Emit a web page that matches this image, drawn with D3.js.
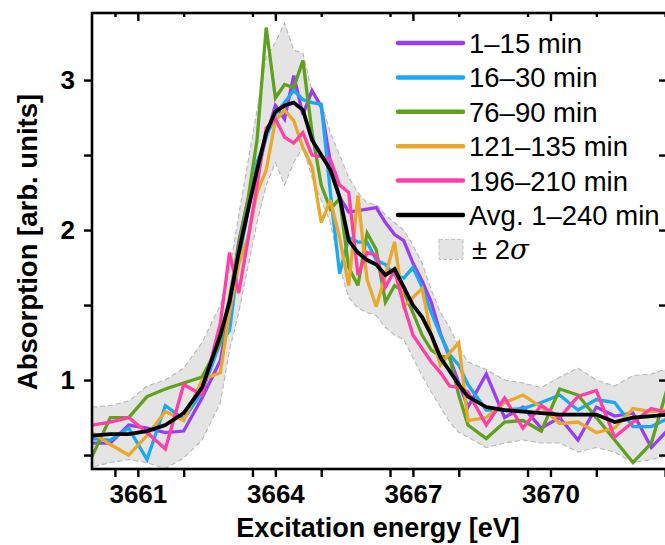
<!DOCTYPE html>
<html><head><meta charset="utf-8">
<script src="https://cdn.jsdelivr.net/npm/d3@7/dist/d3.min.js"></script>
<style>
html,body{margin:0;padding:0;background:#fff;}
svg{display:block;font-family:"Liberation Sans",Arial,sans-serif;}
</style></head>
<body><svg id="chart" width="665" height="545"></svg>
<script>
// Energy grid [eV]
const energy = [3660.0,3660.4,3660.8,3661.2,3661.6,3662.0,3662.4,
  3662.8,3663.0,3663.2,3663.4,3663.6,3663.8,3664.0,3664.2,3664.4,3664.6,3664.8,3665.0,
  3665.2,3665.4,3665.6,3665.8,3666.0,3666.2,3666.4,3666.6,3666.8,3667.0,3667.2,3667.4,
  3667.6,3667.8,3668.0,3668.2,
  3668.6,3669.0,3669.4,3669.8,3670.2,3670.6,3671.0,3671.4,3671.8,3672.2,3672.6];

const s1_15 = [0.58,0.58,0.70,0.68,0.65,0.66,0.88,
  1.13,1.47,1.92,2.20,2.38,2.62,2.83,2.74,3.03,2.77,2.93,2.82,
  2.45,2.22,2.12,2.13,2.14,2.15,2.05,1.97,1.93,1.78,1.66,1.52,
  1.31,1.15,0.98,0.82,
  1.04,0.75,0.82,0.68,0.75,0.60,0.82,0.76,0.78,0.55,0.68];
const s16_30 = [0.61,0.60,0.68,0.47,0.83,0.74,0.92,
  1.25,1.33,1.80,2.12,2.45,2.62,2.77,2.85,2.93,2.87,2.85,2.84,
  2.25,1.71,1.95,1.92,1.92,1.80,1.77,1.70,1.68,1.75,1.62,1.45,
  1.30,1.17,1.10,0.97,
  0.80,0.80,0.81,0.85,0.90,0.80,0.87,0.85,0.69,0.69,0.75];
const s76_90 = [0.49,0.75,0.75,0.89,0.94,0.98,1.02,
  1.25,1.55,1.90,2.20,2.60,3.35,2.88,2.97,2.95,3.13,2.65,2.30,
  2.14,2.21,1.75,1.63,1.98,1.87,1.52,1.63,1.59,1.45,1.30,1.20,
  1.16,1.15,0.90,0.70,
  0.61,0.72,0.73,0.66,0.94,0.90,0.75,0.60,0.45,0.58,1.00];
const s121_135 = [0.65,0.57,0.50,0.63,0.79,0.73,1.00,
  1.05,1.45,1.77,1.95,2.25,2.40,2.73,2.80,2.73,2.55,2.42,2.05,
  2.20,1.95,1.63,2.23,1.67,1.49,1.70,1.92,1.49,1.55,1.61,1.30,
  1.10,1.18,1.25,0.73,
  0.75,0.85,0.90,0.82,0.71,0.72,0.65,0.68,0.81,0.79,0.80];
const s196_210 = [0.70,0.72,0.75,0.65,0.54,0.97,0.90,
  1.38,1.85,1.58,1.93,2.30,2.68,2.74,2.62,2.58,2.65,2.50,2.49,
  2.47,2.30,2.25,1.70,1.85,1.83,1.62,1.73,1.50,1.30,1.21,1.12,
  1.05,0.96,0.95,0.92,
  0.70,0.88,0.68,0.83,0.75,0.89,0.93,0.62,0.72,0.81,0.78];
const avg = [0.63,0.64,0.64,0.66,0.70,0.78,0.95,
  1.30,1.52,1.85,2.13,2.40,2.65,2.79,2.83,2.85,2.80,2.60,2.50,
  2.40,2.22,1.93,1.85,1.80,1.77,1.70,1.74,1.62,1.50,1.42,1.30,
  1.15,1.06,0.97,0.89,
  0.82,0.80,0.79,0.78,0.77,0.77,0.77,0.72,0.75,0.76,0.77];
const bandHi = [0.82,0.83,0.86,0.96,1.00,1.08,1.25,
  1.50,1.73,2.10,2.45,2.80,3.15,3.25,3.38,3.20,3.18,2.92,2.85,
  2.65,2.50,2.35,2.25,2.18,2.17,2.10,2.05,2.00,1.90,1.78,1.60,
  1.45,1.35,1.22,1.12,
  1.07,1.00,0.98,0.95,1.02,1.08,1.00,0.96,1.03,1.04,1.08];
const bandLo = [0.42,0.45,0.47,0.45,0.41,0.48,0.60,
  0.85,1.20,1.45,1.75,2.05,2.30,2.45,2.30,2.45,2.55,2.35,2.20,
  2.05,1.75,1.55,1.48,1.45,1.43,1.35,1.30,1.27,1.15,1.03,0.92,
  0.82,0.72,0.65,0.62,
  0.55,0.58,0.60,0.58,0.58,0.52,0.55,0.52,0.45,0.47,0.50];

const seriesNames = ["1\u201315 min","16\u201330 min","76\u201390 min","121\u2013135 min","196\u2013210 min","Avg. 1\u2013240 min"];
const seriesColors = ["#9b3cf5","#19a9f2","#5ea11c","#e9a82b","#ff3fa6","#000000"];
const seriesData = [s1_15,s16_30,s76_90,s121_135,s196_210,avg];
const xTicks = [3661,3664,3667,3670];
const yTicks = [1,2,3];

const svg = d3.select("#chart");
const L=92, R=667, T=13, B=469;
const x = d3.scaleLinear().domain([3660.0,3672.52]).range([L,R-1]);
const y = d3.scaleLinear().domain([0.407,3.447]).range([B,T]);

svg.append("defs").append("clipPath").attr("id","clip")
  .append("rect").attr("x",L).attr("y",T).attr("width",R-L).attr("height",B-T);

const g = svg.append("g").attr("clip-path","url(#clip)");

// ±2σ band
const area = d3.area().x((d,i)=>x(energy[i])).y0((d,i)=>y(bandLo[i])).y1((d,i)=>y(bandHi[i]));
g.append("path").datum(energy).attr("d",area)
  .attr("fill","#e4e4e4").attr("stroke","#b8b8b8").attr("stroke-width",1.1).attr("stroke-dasharray","5,3");

const line = d3.line().x((d,i)=>x(energy[i])).y(d=>y(d));
seriesData.forEach((s,k)=>{
  g.append("path").datum(s).attr("d",line).attr("fill","none")
    .attr("stroke",seriesColors[k]).attr("stroke-width",k===5?3.8:3.3)
    .attr("stroke-linejoin","miter").attr("stroke-miterlimit",3);
});

// axes
const axW = 2.6;
const xMinor = d3.range(3660.5,3672.6,1.5).filter(v=>!xTicks.includes(v));
const yMinor = [0.5,1.5,2.5];
svg.append("g").attr("transform",`translate(0,${B})`)
  .call(d3.axisBottom(x).tickValues(xTicks).tickSize(8).tickPadding(8).tickFormat(d3.format("d")));
svg.append("g").attr("transform",`translate(0,${B})`)
  .call(d3.axisBottom(x).tickValues(xMinor).tickSize(8).tickFormat(""));
svg.append("g").attr("transform",`translate(0,${T})`)
  .call(d3.axisBottom(x).tickValues(xTicks).tickSize(8).tickFormat(""));
svg.append("g").attr("transform",`translate(0,${T})`)
  .call(d3.axisBottom(x).tickValues(xMinor).tickSize(4).tickFormat(""));
svg.append("g").attr("transform",`translate(${L},0)`)
  .call(d3.axisLeft(y).tickValues(yTicks).tickSize(8).tickPadding(9).tickFormat(d3.format("d")));
svg.append("g").attr("transform",`translate(${L},0)`)
  .call(d3.axisLeft(y).tickValues(yMinor).tickSize(8).tickFormat(""));
svg.append("g").attr("transform",`translate(${R},0)`)
  .call(d3.axisLeft(y).tickValues(yTicks.concat(yMinor)).tickSize(8).tickFormat(""));

svg.selectAll(".domain").remove();
svg.selectAll(".tick line").attr("stroke","#000").attr("stroke-width",2.4);
svg.selectAll(".tick text").attr("fill","#000").attr("font-size",26).attr("font-weight","bold")
  .attr("font-family","Liberation Sans, Arial, sans-serif");
svg.append("rect").attr("x",L).attr("y",T).attr("width",R-L).attr("height",B-T)
  .attr("fill","none").attr("stroke","#000").attr("stroke-width",axW);

// axis titles
svg.append("text").attr("x",378).attr("y",537).attr("text-anchor","middle")
  .attr("font-size",27).attr("font-weight","bold").text("Excitation energy [eV]");
svg.append("text").attr("transform","translate(37,242) rotate(-90)").attr("text-anchor","middle")
  .attr("font-size",27.5).attr("font-weight","bold").text("Absorption [arb. units]");

// legend
const lg = svg.append("g");
seriesNames.forEach((n,k)=>{
  const yy = 43 + k*34.4;
  lg.append("line").attr("x1",398).attr("x2",463).attr("y1",yy).attr("y2",yy)
    .attr("stroke",seriesColors[k]).attr("stroke-width",4.5).attr("stroke-linecap","round");
  lg.append("text").attr("x",469).attr("y",yy).attr("dy","0.36em")
    .attr("font-size",27.5).attr("fill","#000").text(n);
});
const sy = 43 + 6*34.4;
lg.append("rect").attr("x",439).attr("y",sy-10).attr("width",24).attr("height",20)
  .attr("fill","#e4e4e4").attr("stroke","#c0c0c0").attr("stroke-dasharray","4,2").attr("stroke-width",1);
const st = lg.append("text").attr("x",472).attr("y",sy).attr("dy","0.36em").attr("font-size",27.5).attr("fill","#000");
st.append("tspan").text("\u00b1 2");
st.append("tspan").attr("font-style","italic").attr("font-family","DejaVu Serif, serif").text("\u03c3");
</script></body></html>
